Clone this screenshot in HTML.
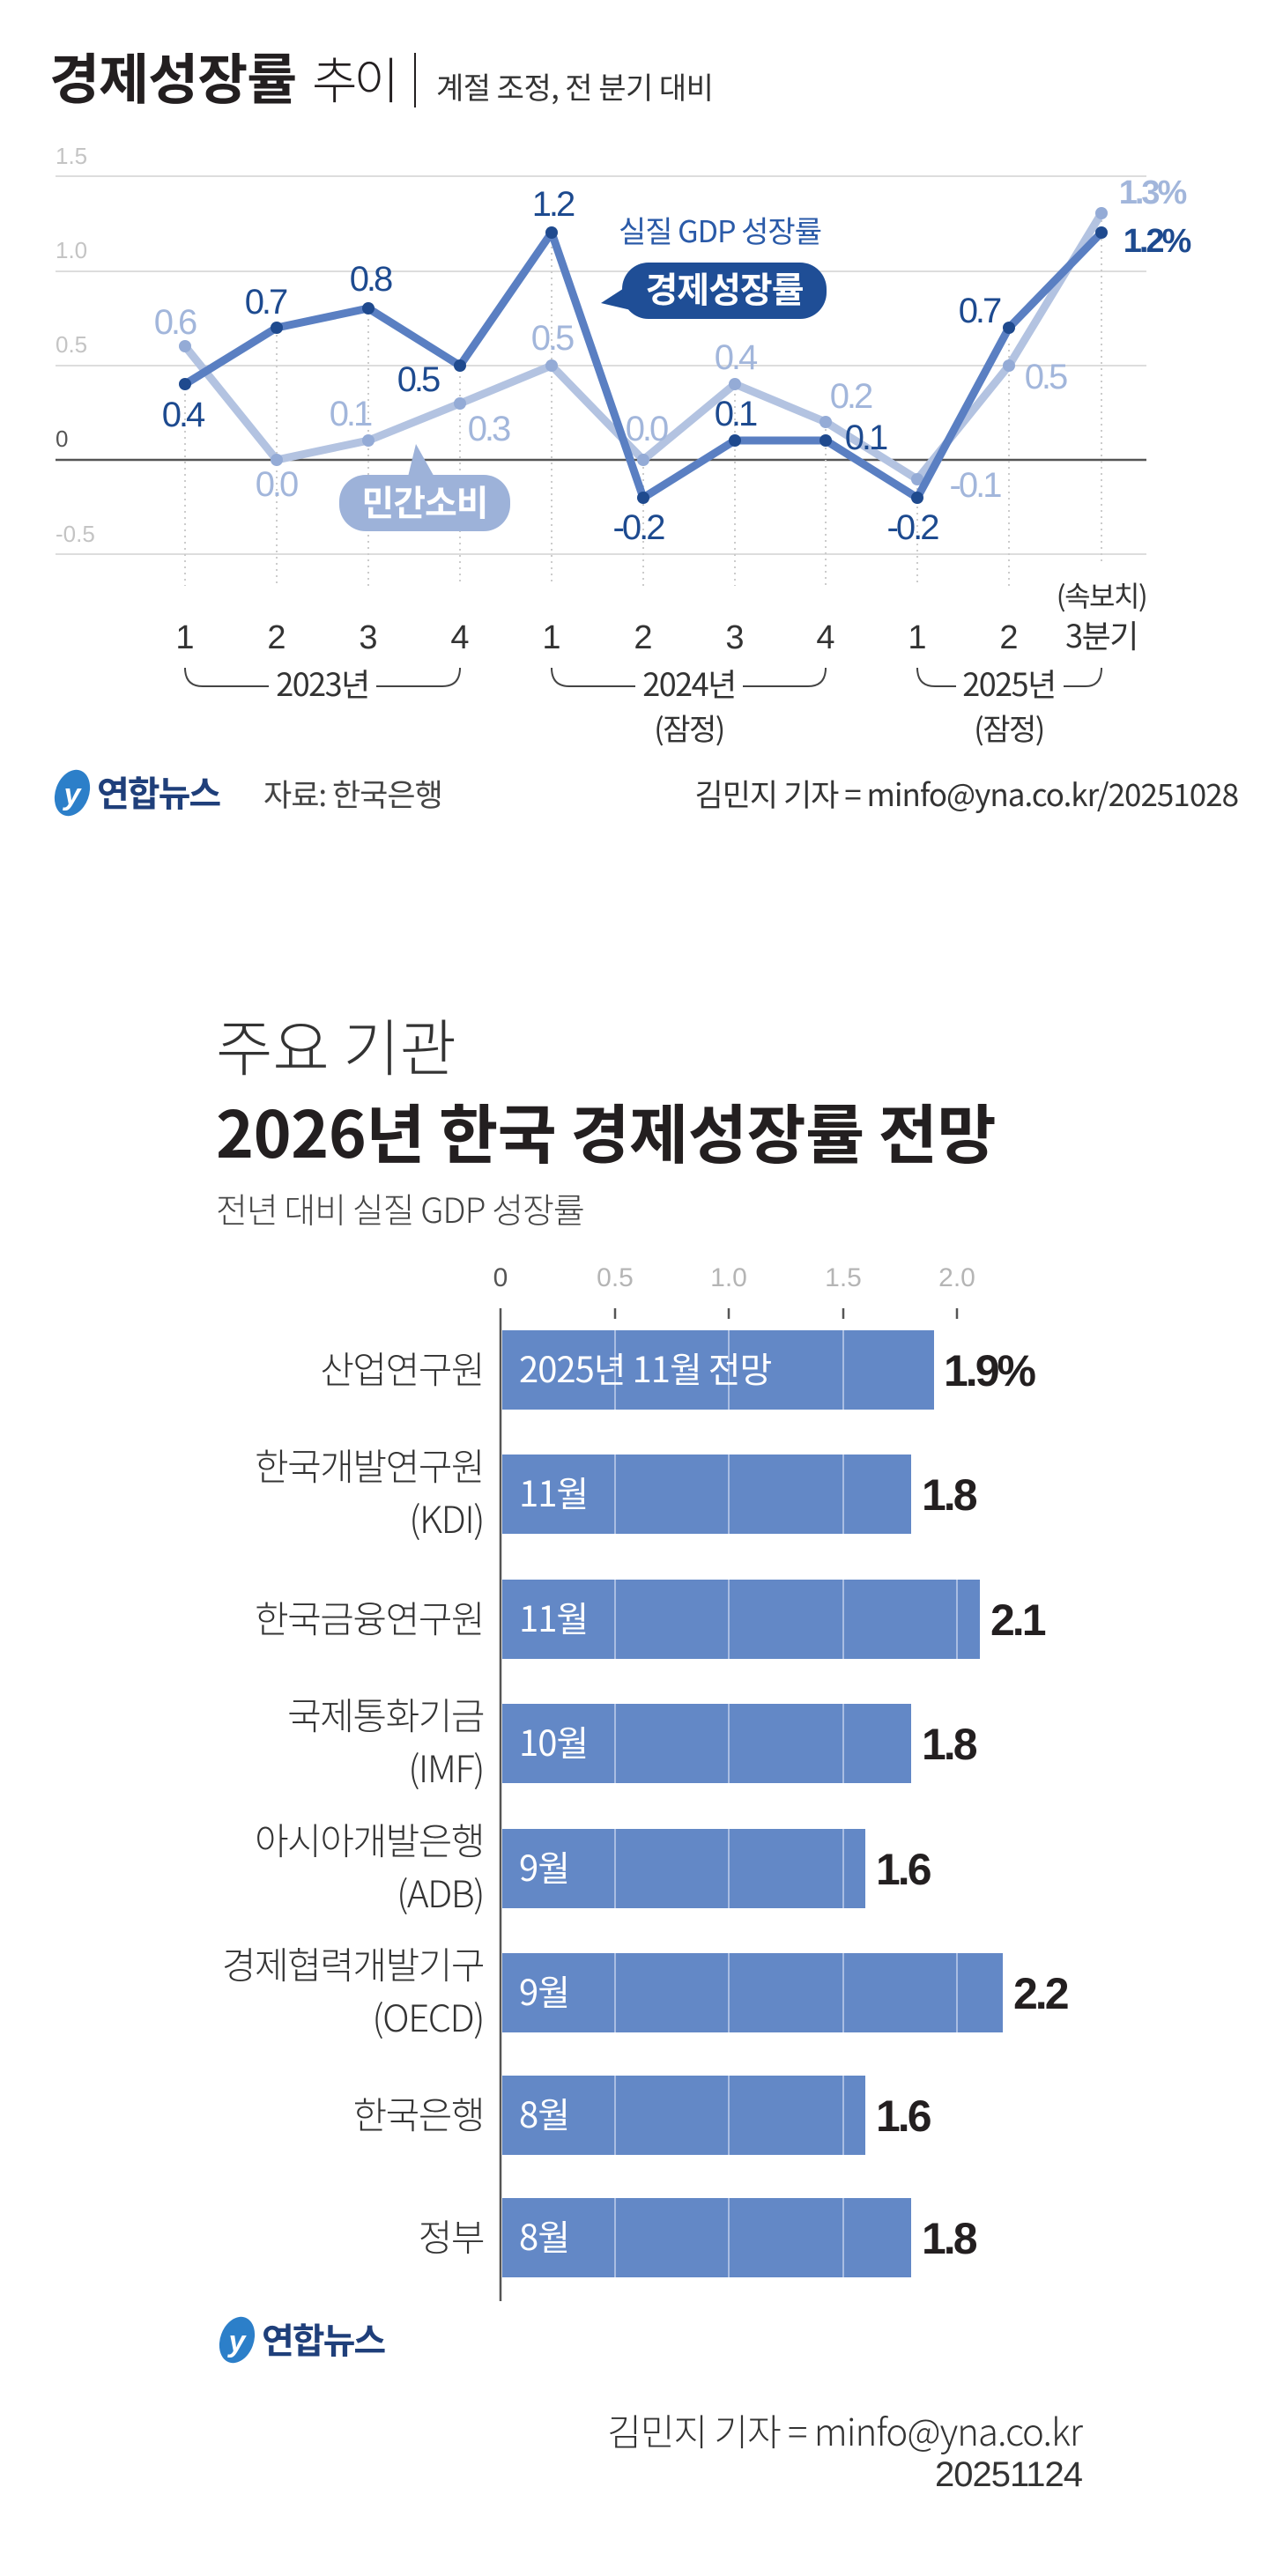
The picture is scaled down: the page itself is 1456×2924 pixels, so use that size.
<!DOCTYPE html>
<html><head><meta charset="utf-8"><style>
html,body{margin:0;padding:0;background:#fff}
svg{display:block}
text{font-family:"Liberation Sans","Noto Sans CJK KR",sans-serif}
.k{font-family:"Noto Sans CJK KR","Liberation Sans",sans-serif}
</style></head><body>
<svg width="1456" height="2924" viewBox="0 0 1456 2924" xmlns="http://www.w3.org/2000/svg">
<!-- Chart 1 title -->
<text x="56" y="112" class="k" font-size="62" font-weight="700" fill="#231f20" letter-spacing="-1">경제성장률</text>
<text x="354" y="112" class="k" font-size="56" font-weight="300" fill="#231f20" letter-spacing="-4">추이</text>
<line x1="471" y1="60" x2="471" y2="122" stroke="#231f20" stroke-width="2"/>
<text x="495" y="112" class="k" font-size="34" fill="#333" letter-spacing="-0.5">계절 조정, 전 분기 대비</text>

<!-- grid -->
<g stroke="#ddd" stroke-width="2">
<line x1="63" y1="200" x2="1301" y2="200"/>
<line x1="63" y1="308" x2="1301" y2="308"/>
<line x1="63" y1="415" x2="1301" y2="415"/>
<line x1="63" y1="629" x2="1301" y2="629"/>
</g>
<line x1="63" y1="522" x2="1301" y2="522" stroke="#555" stroke-width="2.5"/>
<g font-size="26" fill="#c4c4c4" font-weight="300">
<text x="63" y="186">1.5</text>
<text x="63" y="293">1.0</text>
<text x="63" y="400">0.5</text>
<text x="63" y="507" fill="#555">0</text>
<text x="63" y="615">-0.5</text>
</g>
<!-- dotted verticals -->
<g stroke="#ccc" stroke-width="2" stroke-dasharray="2,5">
<line x1="210" y1="440" x2="210" y2="665"/><line x1="314" y1="380" x2="314" y2="665"/>
<line x1="418" y1="355" x2="418" y2="665"/><line x1="522" y1="420" x2="522" y2="665"/>
<line x1="626" y1="280" x2="626" y2="665"/><line x1="730" y1="530" x2="730" y2="665"/>
<line x1="834" y1="440" x2="834" y2="665"/><line x1="937" y1="480" x2="937" y2="665"/>
<line x1="1041" y1="540" x2="1041" y2="665"/><line x1="1145" y1="390" x2="1145" y2="665"/>
<line x1="1250" y1="250" x2="1250" y2="640"/>
</g>
<!-- consumption -->
<polyline fill="none" stroke="#b3c3e1" stroke-width="9" stroke-linejoin="round" points="210,393 314,522 418,500 522,458 626,415 730,522 834,436 937,479 1041,544 1145,415 1250,242"/>
<g fill="#94abd6">
<circle cx="210" cy="393" r="7"/><circle cx="314" cy="522" r="7"/><circle cx="418" cy="500" r="7"/><circle cx="522" cy="458" r="7"/><circle cx="626" cy="415" r="7"/><circle cx="730" cy="522" r="7"/><circle cx="834" cy="436" r="7"/><circle cx="937" cy="479" r="7"/><circle cx="1041" cy="544" r="7"/><circle cx="1145" cy="415" r="7"/><circle cx="1250" cy="242" r="7"/>
</g>
<!-- GDP -->
<polyline fill="none" stroke="#5a7fc2" stroke-width="9" stroke-linejoin="round" points="210,436 314,372 418,350 522,415 626,264 730,565 834,500 937,500 1041,565 1145,372 1250,264"/>
<g fill="#1f4a8e">
<circle cx="210" cy="436" r="7"/><circle cx="314" cy="372" r="7"/><circle cx="418" cy="350" r="7"/><circle cx="522" cy="415" r="7"/><circle cx="626" cy="264" r="7"/><circle cx="730" cy="565" r="7"/><circle cx="834" cy="500" r="7"/><circle cx="937" cy="500" r="7"/><circle cx="1041" cy="565" r="7"/><circle cx="1145" cy="372" r="7"/><circle cx="1250" cy="264" r="7"/>
</g>
<!-- labels -->
<g font-size="40" fill="#1d4a8f" text-anchor="middle" letter-spacing="-3">
<text x="207" y="484">0.4</text><text x="301" y="356">0.7</text><text x="420" y="330">0.8</text>
<text x="474" y="444">0.5</text><text x="627" y="245">1.2</text><text x="724" y="612">-0.2</text>
<text x="834" y="483">0.1</text><text x="982" y="510">0.1</text><text x="1035" y="612">-0.2</text>
<text x="1111" y="366">0.7</text>
<text x="1312" y="286" font-weight="700" font-size="38">1.2%</text>
</g>
<g font-size="40" fill="#a2b6db" text-anchor="middle" letter-spacing="-3" font-weight="300">
<text x="198" y="379">0.6</text><text x="313" y="563">0.0</text><text x="397" y="483">0.1</text>
<text x="554" y="500">0.3</text><text x="626" y="397">0.5</text><text x="733" y="500">0.0</text>
<text x="834" y="419">0.4</text><text x="965" y="463">0.2</text><text x="1106" y="564">-0.1</text>
<text x="1186" y="441">0.5</text>
<text x="1307" y="231" font-weight="700" font-size="38">1.3%</text>
</g>
<text x="817" y="275" class="k" font-size="34" fill="#2a5aa8" text-anchor="middle" letter-spacing="-1">실질 GDP 성장률</text>
<!-- badges -->
<path d="M682,344 L716,322 L716,352 Z" fill="#1f4e96"/>
<rect x="706" y="298" width="232" height="64" rx="30" fill="#1f4e96"/>
<text x="822" y="343" class="k" font-size="40" font-weight="700" fill="#fff" text-anchor="middle" letter-spacing="-1">경제성장률</text>
<path d="M472,504 L462,545 L495,545 Z" fill="#9db2d9"/>
<rect x="385" y="539" width="194" height="64" rx="30" fill="#9db2d9"/>
<text x="482" y="585" class="k" font-size="40" font-weight="700" fill="#fff" text-anchor="middle" letter-spacing="-1">민간소비</text>
<!-- x labels -->
<g font-size="38" fill="#333" text-anchor="middle" font-weight="300">
<text x="210" y="736">1</text><text x="314" y="736">2</text><text x="418" y="736">3</text><text x="522" y="736">4</text>
<text x="626" y="736">1</text><text x="730" y="736">2</text><text x="834" y="736">3</text><text x="937" y="736">4</text>
<text x="1041" y="736">1</text><text x="1145" y="736">2</text>
</g>
<g class="k" font-size="32" fill="#333" text-anchor="middle" letter-spacing="-1.5">
<text x="1250" y="688" class="k">(속보치)</text>
<text x="1250" y="735" class="k" font-size="36">3분기</text>
<text x="366" y="790" class="k" font-size="36">2023년</text>
<text x="782" y="790" class="k" font-size="36">2024년</text>
<text x="782" y="840" class="k" font-size="34">(잠정)</text>
<text x="1145" y="790" class="k" font-size="36">2025년</text>
<text x="1145" y="840" class="k" font-size="34">(잠정)</text>
</g>
<g fill="none" stroke="#444" stroke-width="2">
<path d="M210,758 Q210,779 230,779 L305,779 M427,779 L502,779 Q522,779 522,758"/>
<path d="M626,758 Q626,779 646,779 L721,779 M843,779 L917,779 Q937,779 937,758"/>
<path d="M1041,758 Q1041,779 1061,779 L1085,779 M1207,779 L1232,779 Q1250,779 1250,758"/>
</g>
<!-- footer 1 -->
<ellipse cx="82" cy="900" rx="19" ry="27" fill="#2c7fc9" transform="rotate(20 82 900)"/>
<text x="82" y="913" font-size="34" font-style="italic" font-weight="700" fill="#fff" text-anchor="middle">y</text>
<text x="110" y="915" class="k" font-size="40" font-weight="700" fill="#1f3f7a" letter-spacing="-2">연합뉴스</text>
<text x="299" y="915" class="k" font-size="35" fill="#444" letter-spacing="-1">자료: 한국은행</text>
<text x="1405" y="915" class="k" font-size="35" fill="#333" text-anchor="end" letter-spacing="-1">김민지 기자 = minfo@yna.co.kr/20251028</text>

<!-- Chart 2 -->
<text x="245" y="1215" class="k" font-size="70" font-weight="300" fill="#333" letter-spacing="0">주요 기관</text>
<text x="245" y="1314" class="k" font-size="73" font-weight="700" fill="#231f20" letter-spacing="-0.5">2026년 한국 경제성장률 전망</text>
<text x="245" y="1388" class="k" font-size="39" font-weight="300" fill="#444" letter-spacing="-1">전년 대비 실질 GDP 성장률</text>
<g font-size="30" fill="#b5b5b5" text-anchor="middle" font-weight="300">
<text x="568" y="1460" fill="#555">0</text><text x="698" y="1460">0.5</text><text x="827" y="1460">1.0</text><text x="957" y="1460">1.5</text><text x="1086" y="1460">2.0</text>
</g>
<g stroke="#555" stroke-width="2.5">
<line x1="698" y1="1485" x2="698" y2="1497"/><line x1="827" y1="1485" x2="827" y2="1497"/><line x1="957" y1="1485" x2="957" y2="1497"/><line x1="1086" y1="1485" x2="1086" y2="1497"/>
</g>
<g fill="#6388c6">
<rect x="570" y="1510" width="490" height="90"/>
<rect x="570" y="1651" width="464" height="90"/>
<rect x="570" y="1793" width="542" height="90"/>
<rect x="570" y="1934" width="464" height="90"/>
<rect x="570" y="2076" width="412" height="90"/>
<rect x="570" y="2217" width="568" height="90"/>
<rect x="570" y="2356" width="412" height="90"/>
<rect x="570" y="2495" width="464" height="90"/>
</g>
<g stroke="#a9bde2" stroke-width="2">
<line x1="698" y1="1510" x2="698" y2="2585"/><line x1="827" y1="1510" x2="827" y2="2585"/><line x1="957" y1="1510" x2="957" y2="2585"/>
<line x1="1086" y1="1793" x2="1086" y2="1883"/><line x1="1086" y1="2217" x2="1086" y2="2307"/>
</g>
<g fill="#fff" stroke="none"><rect x="570" y="1600" width="600" height="51"/><rect x="570" y="1741" width="600" height="52"/><rect x="570" y="1883" width="600" height="51"/><rect x="570" y="2024" width="600" height="52"/><rect x="570" y="2166" width="600" height="51"/><rect x="570" y="2307" width="600" height="49"/><rect x="570" y="2446" width="600" height="49"/></g>
<line x1="568" y1="1485" x2="568" y2="2612" stroke="#555" stroke-width="2.5"/>
<g class="k" font-size="40" fill="#fff" letter-spacing="-1">
<text x="589" y="1569" class="k">2025년 11월 전망</text>
<text x="589" y="1710" class="k">11월</text><text x="589" y="1852" class="k">11월</text><text x="589" y="1993" class="k">10월</text>
<text x="589" y="2135" class="k">9월</text><text x="589" y="2276" class="k">9월</text><text x="589" y="2415" class="k">8월</text><text x="589" y="2554" class="k">8월</text>
</g>
<g font-size="50" font-weight="700" fill="#231f20" letter-spacing="-3">
<text x="1071" y="1573">1.9%</text><text x="1046" y="1714">1.8</text><text x="1124" y="1856">2.1</text>
<text x="1046" y="1997">1.8</text><text x="994" y="2139">1.6</text><text x="1150" y="2280">2.2</text>
<text x="994" y="2419">1.6</text><text x="1046" y="2558">1.8</text>
</g>
<g class="k" font-size="42" font-weight="300" fill="#333" text-anchor="end" letter-spacing="-1.5">
<text x="549" y="1570" class="k">산업연구원</text>
<text x="549" y="1680" class="k">한국개발연구원</text><text x="549" y="1740" class="k">(KDI)</text>
<text x="549" y="1853" class="k">한국금융연구원</text>
<text x="549" y="1963" class="k">국제통화기금</text><text x="549" y="2023" class="k">(IMF)</text>
<text x="549" y="2105" class="k">아시아개발은행</text><text x="549" y="2165" class="k">(ADB)</text>
<text x="549" y="2246" class="k">경제협력개발기구</text><text x="549" y="2306" class="k">(OECD)</text>
<text x="549" y="2416" class="k">한국은행</text>
<text x="549" y="2555" class="k">정부</text>
</g>
<ellipse cx="269" cy="2656" rx="19" ry="27" fill="#2c7fc9" transform="rotate(20 269 2656)"/>
<text x="269" y="2669" font-size="34" font-style="italic" font-weight="700" fill="#fff" text-anchor="middle">y</text>
<text x="297" y="2671" class="k" font-size="40" font-weight="700" fill="#1f3f7a" letter-spacing="-2">연합뉴스</text>
<text x="1228" y="2776" class="k" font-size="42" font-weight="300" fill="#333" text-anchor="end" letter-spacing="-1">김민지 기자 = minfo@yna.co.kr</text>
<text x="1228" y="2822" font-size="40" font-weight="300" fill="#333" text-anchor="end" letter-spacing="-1">20251124</text>
</svg>
</body></html>
